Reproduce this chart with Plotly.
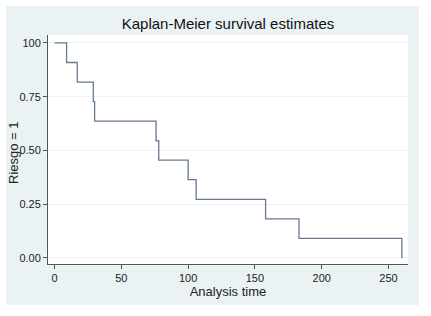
import plotly.graph_objects as go

# Kaplan-Meier step data
times = [0, 9, 17, 29, 30, 76, 78, 100, 106, 158, 183, 260]
survival = [1.0, 0.909, 0.818, 0.727, 0.636, 0.545, 0.455, 0.364, 0.273, 0.182, 0.091, 0.0]

x_ticks = [0, 50, 100, 150, 200, 250]
y_ticks = [0, 0.25, 0.5, 0.75, 1.0]
y_ticktext = ["0.00", "0.25", "0.50", "0.75", "100"]

BG = "#eaf2f4"
FONT = "Liberation Sans, Arial, sans-serif"

fig = go.Figure()
fig.add_trace(go.Scatter(
    x=times, y=survival, mode="lines",
    line=dict(shape="hv", color="#66798f", width=1.3),
    showlegend=False, hoverinfo="skip",
))

L, R, T, B = 48, 408, 35, 264
W, H = 431, 316
pw, ph = R - L, B - T

def px_x(p):
    return (p - L) / pw

def px_y(p):
    return (B - p) / ph

fig.add_shape(type="rect", xref="paper", yref="paper",
              x0=px_x(6), x1=px_x(419), y0=px_y(305), y1=px_y(6),
              fillcolor=BG, line=dict(width=0), layer="below")
fig.add_shape(type="rect", xref="paper", yref="paper",
              x0=0, x1=1, y0=0, y1=1,
              fillcolor="white", line=dict(width=0), layer="below")

fig.add_annotation(text="Riesgo = 1", textangle=-90, showarrow=False,
                   xref="paper", yref="paper", x=px_x(13), y=px_y(153),
                   xanchor="center", yanchor="middle",
                   font=dict(size=13, family=FONT, color="#222222"))

fig.update_layout(
    width=W, height=H,
    margin=dict(l=L, r=W - R, t=T, b=H - B, autoexpand=False),
    paper_bgcolor="white", plot_bgcolor="white",
    font=dict(family=FONT, color="#222222", size=11),
    title=dict(text="Kaplan-Meier survival estimates", x=0.5, xref="paper",
               y=1 - 24 / H, yanchor="middle",
               font=dict(size=15, family=FONT, color="#111111")),
)
fig.update_xaxes(
    range=[-4.9, 264.6], tickvals=x_ticks, showgrid=False, zeroline=False,
    showline=True, linecolor="#555555", linewidth=1, automargin=False,
    ticks="outside", ticklen=4, tickcolor="#555555",
    tickfont=dict(size=11),
    title=dict(text="Analysis time", font=dict(size=13), standoff=3),
)
fig.update_yaxes(
    range=[-0.028, 1.037], tickvals=y_ticks, ticktext=y_ticktext,
    showgrid=True, gridcolor="#eef2f4", gridwidth=1, zeroline=False,
    showline=True, linecolor="#555555", linewidth=1, automargin=False,
    ticks="outside", ticklen=4, tickcolor="#555555",
    tickfont=dict(size=11),
)

fig.write_html("out.html", config={"displayModeBar": False},
               post_script="document.body.style.margin='0';")
